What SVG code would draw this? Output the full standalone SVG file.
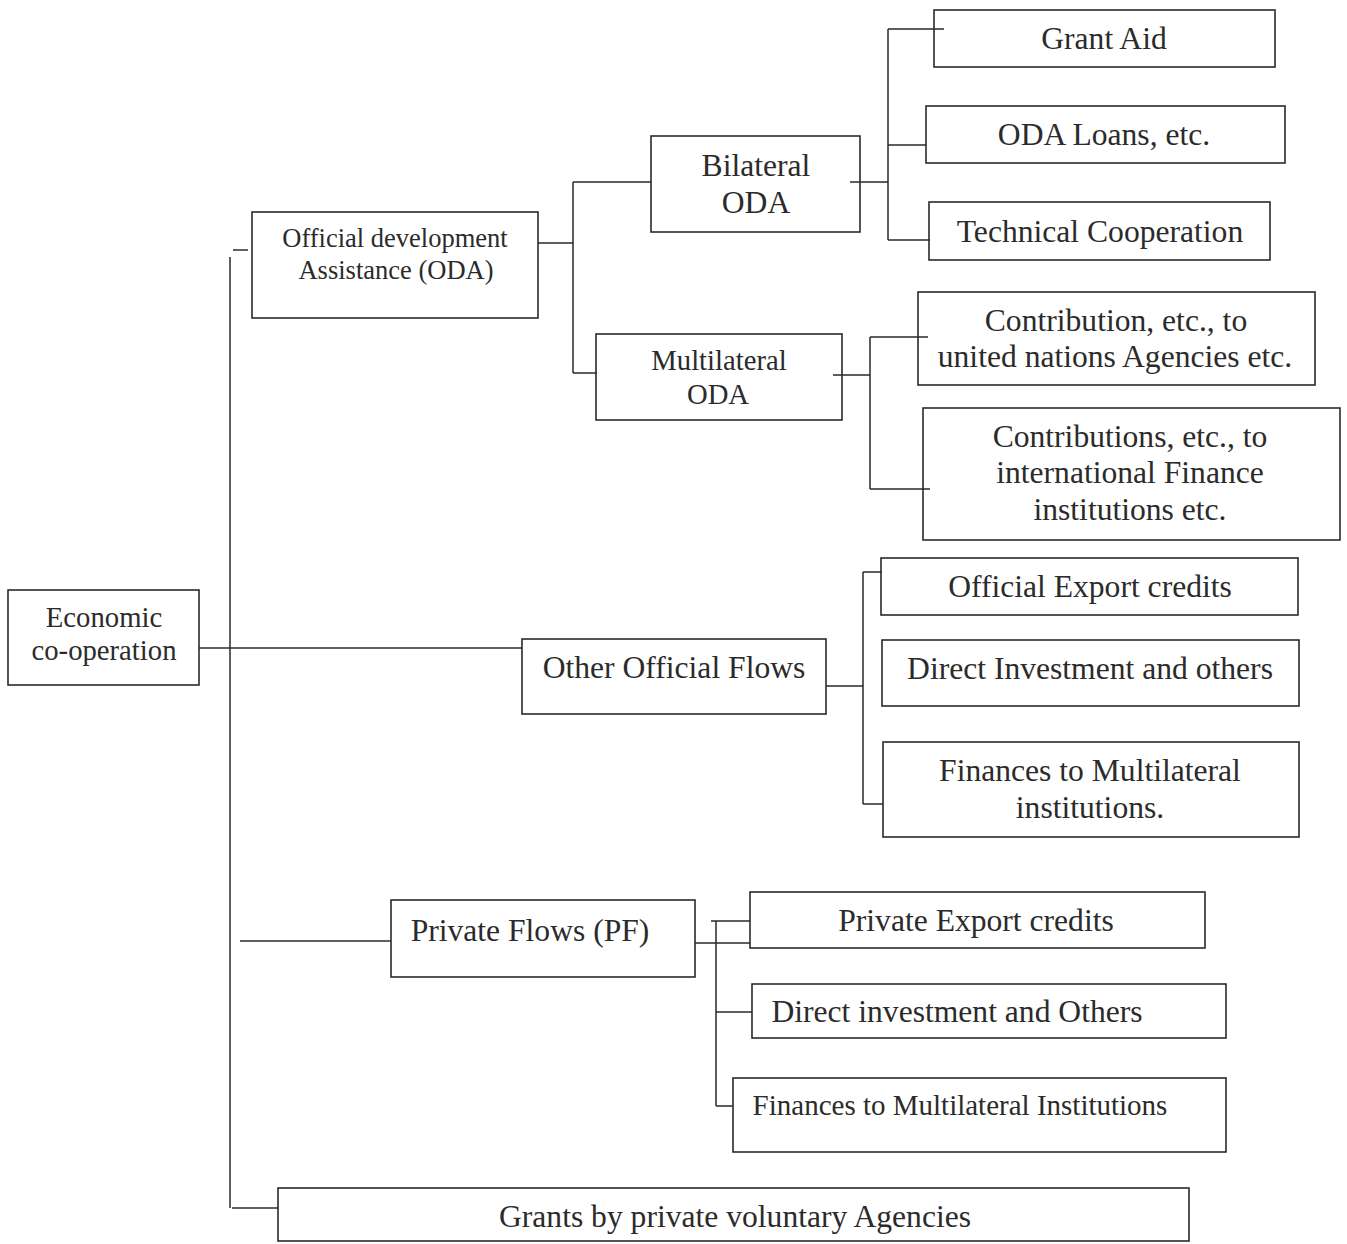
<svg xmlns="http://www.w3.org/2000/svg" width="1347" height="1244" viewBox="0 0 1347 1244">
  <style>
    .box { fill: #ffffff; stroke: #2a2a2a; stroke-width: 1.6; }
    .wire { fill: none; stroke: #2a2a2a; stroke-width: 1.5; }
    text { font-family: "Liberation Serif", "Times New Roman", serif; fill: #2b2b2b; text-anchor: middle; }
    .t30 { font-size: 31.6px; }
    .t28 { font-size: 28.7px; }
    .t29 { font-size: 29px; }
    .t26 { font-size: 26.5px; }
  </style>
  <rect width="1347" height="1244" fill="#ffffff"/>

  <g id="economic-cooperation">
    <rect class="box" x="8" y="590" width="191" height="95"/>
    <text class="t28" x="104" y="627">Economic</text>
    <text class="t28" x="104" y="660">co-operation</text>
  </g>

  <g id="oda">
    <rect class="box" x="252" y="212" width="286" height="106"/>
    <text class="t26" x="395" y="247">Official development</text>
    <text class="t26" x="396" y="279">Assistance (ODA)</text>
  </g>

  <g id="bilateral-oda">
    <rect class="box" x="651" y="136" width="209" height="96"/>
    <text class="t30" x="756" y="176">Bilateral</text>
    <text class="t30" x="756" y="213">ODA</text>
  </g>

  <g id="multilateral-oda">
    <rect class="box" x="596" y="334" width="246" height="86"/>
    <text class="t28" x="719" y="370">Multilateral</text>
    <text class="t28" x="718" y="404">ODA</text>
  </g>

  <g id="grant-aid">
    <rect class="box" x="934" y="10" width="341" height="57"/>
    <text class="t30" x="1104" y="49">Grant Aid</text>
  </g>

  <g id="oda-loans">
    <rect class="box" x="926" y="106" width="359" height="57"/>
    <text class="t30" x="1104" y="145">ODA Loans, etc.</text>
  </g>

  <g id="technical-cooperation">
    <rect class="box" x="929" y="202" width="341" height="58"/>
    <text class="t30" x="1100" y="242">Technical Cooperation</text>
  </g>

  <g id="un-agencies">
    <rect class="box" x="918" y="292" width="397" height="93"/>
    <text class="t30" x="1116" y="331">Contribution, etc., to</text>
    <text class="t30" x="1115" y="367">united nations Agencies etc.</text>
  </g>

  <g id="finance-institutions">
    <rect class="box" x="923" y="408" width="417" height="132"/>
    <text class="t30" x="1130" y="447">Contributions, etc., to</text>
    <text class="t30" x="1130" y="483">international Finance</text>
    <text class="t30" x="1130" y="520">institutions etc.</text>
  </g>

  <g id="other-official-flows">
    <rect class="box" x="522" y="639" width="304" height="75"/>
    <text class="t30" x="674" y="678">Other Official Flows</text>
  </g>

  <g id="official-export-credits">
    <rect class="box" x="881" y="558" width="417" height="57"/>
    <text class="t30" x="1090" y="597">Official Export credits</text>
  </g>

  <g id="direct-investment-official">
    <rect class="box" x="882" y="640" width="417" height="66"/>
    <text class="t30" x="1090" y="679">Direct Investment and others</text>
  </g>

  <g id="finances-multilateral-official">
    <rect class="box" x="883" y="742" width="416" height="95"/>
    <text class="t30" x="1090" y="781">Finances to Multilateral</text>
    <text class="t30" x="1090" y="818">institutions.</text>
  </g>

  <g id="private-flows">
    <rect class="box" x="391" y="900" width="304" height="77"/>
    <text class="t30" x="530" y="941">Private Flows (PF)</text>
  </g>

  <g id="private-export-credits">
    <rect class="box" x="750" y="892" width="455" height="56"/>
    <text class="t30" x="976" y="931">Private Export credits</text>
  </g>

  <g id="direct-investment-private">
    <rect class="box" x="752" y="984" width="474" height="54"/>
    <text class="t30" x="957" y="1022">Direct investment and Others</text>
  </g>

  <g id="finances-multilateral-private">
    <rect class="box" x="733" y="1078" width="493" height="74"/>
    <text class="t29" x="960" y="1115">Finances to Multilateral Institutions</text>
  </g>

  <g id="private-voluntary-grants">
    <rect class="box" x="278" y="1188" width="911" height="53"/>
    <text class="t30" x="735" y="1227">Grants by private voluntary Agencies</text>
  </g>

  <!-- connectors, drawn over the boxes so the stubs that run past a box edge stay visible -->
  <g id="connectors" class="wire">
    <!-- trunk from Economic co-operation -->
    <path d="M233 250 H248"/>
    <path d="M230 257 V1208"/>
    <path d="M199 648 H522"/>
    <path d="M240 941 H391"/>
    <path d="M232 1208 H278"/>
    <!-- ODA branches -->
    <path d="M538 243 H573 M573 182 V373 M573 182 H651 M573 373 H597"/>
    <!-- Bilateral ODA branches -->
    <path d="M850 182 H888 M888 29 V240 M888 29 H944 M888 145 H926 M888 240 H930"/>
    <!-- Multilateral ODA branches -->
    <path d="M833 375 H870 M870 337 V489 M870 337 H928 M870 489 H930"/>
    <!-- Other Official Flows branches -->
    <path d="M826 686 H863 M863 572 V804 M863 572 H882 M863 804 H883"/>
    <!-- Private Flows branches -->
    <path d="M695 943 H750 M711 921 H750 M716 921 V1106 M716 1012 H752 M716 1106 H733"/>
  </g>
</svg>
